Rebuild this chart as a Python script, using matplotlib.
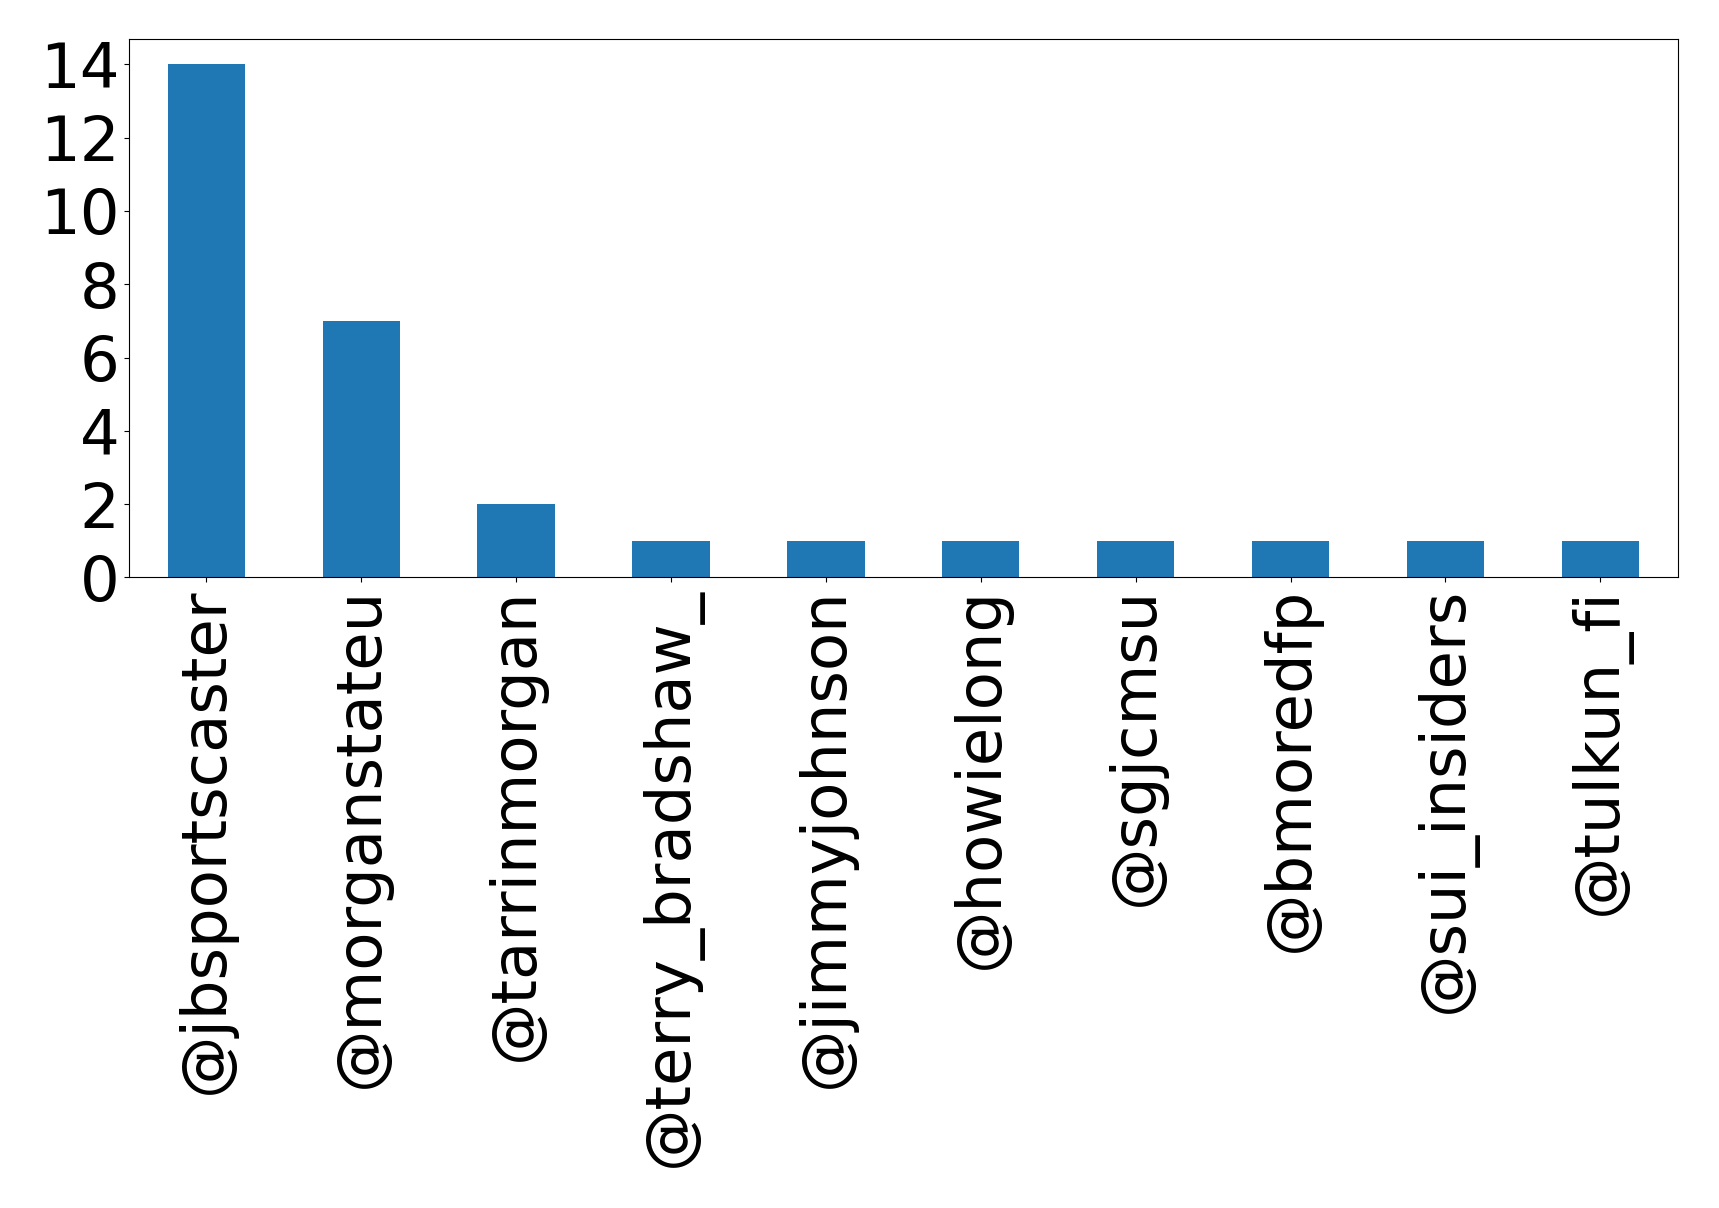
import matplotlib
matplotlib.use("Agg")
import matplotlib.pyplot as plt
import pandas as pd

users = ['@jbsportscaster', '@morganstateu', '@tarrinmorgan', '@terry_bradshaw_',
         '@jimmyjohnson', '@howielong', '@sgjcmsu', '@bmoredfp', '@sui_insiders', '@tulkun_fi']
counts = [14, 7, 2, 1, 1, 1, 1, 1, 1, 1]

s = pd.Series(counts, index=users)

fig, ax = plt.subplots(figsize=(17.19, 12.08), dpi=100)
s.plot(kind='bar', ax=ax, color='#1f77b4', fontsize=45)
ax.set_yticks([0, 2, 4, 6, 8, 10, 12, 14])
fig.subplots_adjust(left=0.075, right=0.976, top=0.968, bottom=0.522)
fig.savefig('out.png', dpi=100)
